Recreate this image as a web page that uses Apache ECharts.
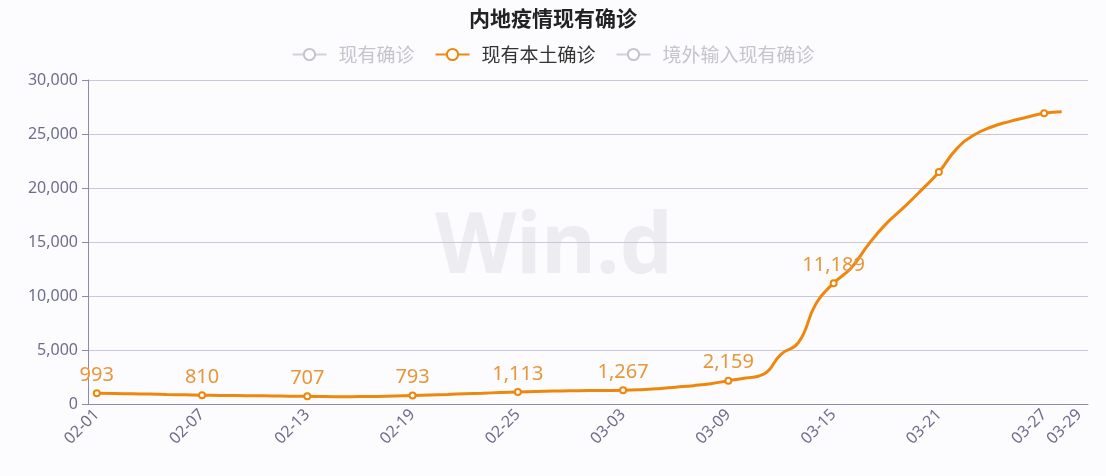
<!DOCTYPE html>
<html>
<head>
<meta charset="utf-8">
<script src="https://cdn.jsdelivr.net/npm/echarts@6/dist/echarts.min.js"></script>
<style>html,body{margin:0;padding:0;background:#fcfcfe;}#c{width:1106px;height:476px;}</style>
</head>
<body>
<div id="c"></div>
<script>
const chartTitle = '内地疫情现有确诊';
const seriesNames = ['现有确诊', '现有本土确诊', '境外输入现有确诊'];
const dates = [
  '02-01','02-02','02-03','02-04','02-05','02-06','02-07','02-08','02-09','02-10',
  '02-11','02-12','02-13','02-14','02-15','02-16','02-17','02-18','02-19','02-20',
  '02-21','02-22','02-23','02-24','02-25','02-26','02-27','02-28',
  '03-01','03-02','03-03','03-04','03-05','03-06','03-07','03-08','03-09','03-10',
  '03-11','03-12','03-13','03-14','03-15','03-16','03-17','03-18','03-19','03-20',
  '03-21','03-22','03-23','03-24','03-25','03-26','03-27','03-28','03-29'
];
const localConfirmed = [
  993, 970, 945, 915, 880, 845, 810, 795, 780, 765,
  745, 725, 707, 690, 680, 685, 705, 745, 793, 840,
  890, 945, 1000, 1060, 1113, 1160, 1195, 1220,
  1240, 1255, 1267, 1320, 1420, 1560, 1700, 1880, 2159, 2400,
  2750, 4600, 5700, 9300, 11189, 12600, 14800, 16700, 18200, 19800,
  21480, 23600, 24900, 25650, 26150, 26550, 26920, 27070, null
];
const totalConfirmed = [];
const importedConfirmed = [];
const labeledIndices = [0, 6, 12, 18, 24, 30, 36, 42];
const yTicks = [0, 5000, 10000, 15000, 20000, 25000, 30000];

const showTick = (i) => i % 6 === 0 || i === dates.length - 1;
const orange = '#ee870e';
const axisText = '#6f6d8c';

const localData = localConfirmed.map((v, i) => ({
  value: v,
  label: { show: labeledIndices.indexOf(i) >= 0 }
}));

const chart = echarts.init(document.getElementById('c'));
chart.setOption({
  backgroundColor: '#fcfcfe',
  animation: false,
  title: {
    text: chartTitle, left: 'center', top: 3,
    textStyle: { fontSize: 21, fontWeight: 'bold', color: '#222', fontFamily: 'Noto Sans CJK SC' }
  },
  legend: {
    top: 40, left: 'center', itemGap: 20, itemWidth: 34, itemHeight: 14,
    data: seriesNames,
    selected: { '现有确诊': false, '现有本土确诊': true, '境外输入现有确诊': false },
    inactiveColor: '#c4c4cc',
    textStyle: { fontSize: 19, color: '#333', fontFamily: 'Noto Sans CJK SC', padding: [0, 0, 0, 7] }
  },
  graphic: [{
    type: 'text', left: 435, top: 207, z: -1, silent: true,
    style: { text: 'Win.d', fontSize: 84, fontWeight: 'bold', fill: '#ececf1', fontFamily: 'Noto Sans' }
  }],
  grid: { left: 88, right: 18, top: 80, bottom: 72 },
  xAxis: {
    type: 'category', data: dates, boundaryGap: true,
    axisLine: { lineStyle: { color: '#8d8ca8', width: 1 } },
    axisTick: { alignWithLabel: true, interval: showTick, length: 6, lineStyle: { color: '#8d8ca8' } },
    axisLabel: { interval: showTick, rotate: 45, fontSize: 16, color: axisText, margin: 8, fontFamily: 'Noto Sans' }
  },
  yAxis: {
    type: 'value', min: yTicks[0], max: yTicks[yTicks.length - 1], interval: 5000,
    axisLine: { show: true, lineStyle: { color: '#8d8ca8' } },
    axisTick: { show: true, length: 6, lineStyle: { color: '#8d8ca8' } },
    splitLine: { lineStyle: { color: '#c9c8d8' } },
    axisLabel: {
      fontSize: 16, color: axisText, margin: 10, fontFamily: 'Noto Sans',
      formatter: (v) => v.toLocaleString('en-US')
    }
  },
  series: [
    { name: seriesNames[0], type: 'line', data: totalConfirmed, symbol: 'emptyCircle', itemStyle: { color: '#5470c6' } },
    {
      name: seriesNames[1], type: 'line', data: localData, smooth: true,
      showAllSymbol: true, symbol: 'emptyCircle',
      symbolSize: (v, p) => (p.dataIndex % 6 === 0 ? 6 : 0),
      lineStyle: { color: orange, width: 3 },
      itemStyle: { color: orange, borderColor: '#e9a45a', borderWidth: 1.5 },
      label: {
        position: 'top', distance: 4, fontSize: 20, color: '#e8963a', fontFamily: 'Noto Sans',
        formatter: (p) => p.value.toLocaleString('en-US')
      },
      z: 3
    },
    { name: seriesNames[2], type: 'line', data: importedConfirmed, symbol: 'emptyCircle', itemStyle: { color: '#91cc75' } }
  ]
});
</script>
</body>
</html>
